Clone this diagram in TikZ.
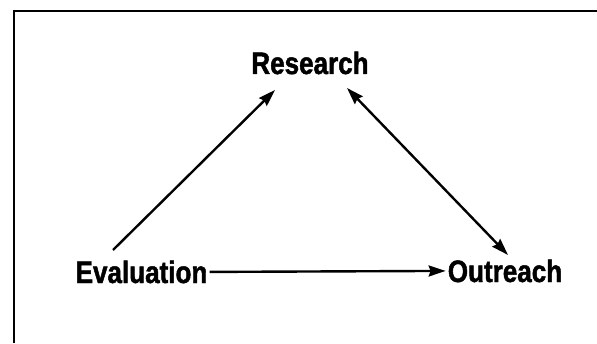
\documentclass[tikz,border=0pt]{standalone}
\usepackage{fontspec}
\newfontfamily\lblfont{Liberation Sans}[FakeStretch=0.84,FakeBold=1.5]
\usetikzlibrary{arrows.meta}
\begin{document}
\begin{tikzpicture}[x=1pt,y=1pt,
  lbl/.style={anchor=base,inner sep=0pt,font=\lblfont\bfseries\fontsize{31}{33}\selectfont},
  conn/.style={line width=2.4pt,-{Stealth[length=17pt,width=11pt,inset=2pt]}},
  dconn/.style={line width=2.4pt,{Stealth[length=17pt,width=11pt,inset=2pt]}-{Stealth[length=17pt,width=11pt,inset=2pt]}}]
\useasboundingbox (0,0) rectangle (597,343);
\draw[line width=2.4pt] (14,0) -- (14,332) -- (597,332);
\node[lbl] (R) at (310,269) {Research};
\node[lbl] (E) at (141.5,60) {Evaluation};
\node[lbl] (O) at (505,61) {Outreach};
\draw[conn] ([shift={(-28.5,33)}]E.base) -- ([shift={(-35,-16)}]R.base);
\draw[dconn] ([shift={(37,-14)}]R.base) -- ([shift={(3,27)}]O.base);
\draw[conn] ([xshift=2pt]E.east) -- ([xshift=-2pt]O.west);
\end{tikzpicture}
\end{document}
